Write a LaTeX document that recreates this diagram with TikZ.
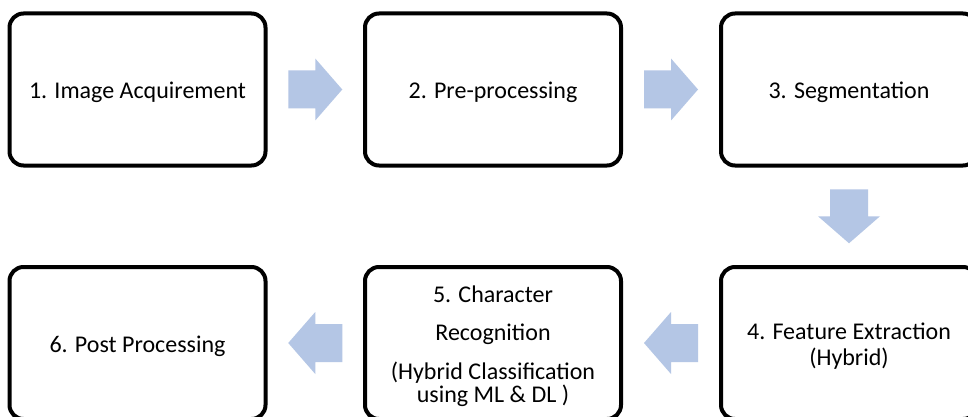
\documentclass[tikz,border=0pt]{standalone}
\usepackage{fontspec}
\setmainfont{Carlito}
\usetikzlibrary{calc}
\definecolor{arrowblue}{RGB}{180,198,229}
\begin{document}
\begin{tikzpicture}[x=1pt,y=-1pt,
  stepbox/.style={draw=black, line width=4pt, rounded corners=14pt,
    minimum width=256pt, minimum height=152pt, inner sep=0pt},
  steptext/.style={inner sep=0pt, align=center, text=black, yshift=-3pt,
    font=\fontsize{24}{28}\selectfont},
  barrow/.pic={\fill[arrowblue] (-27,-19) -- (0,-19) -- (0,-31) -- (27,0)
     -- (0,31) -- (0,19) -- (-27,19) -- cycle;}
]
\fill[white] (0,0) rectangle (968,417);
\useasboundingbox (0,0) rectangle (968,417);
\node[stepbox] (b1) at (137.5,89.5) {};
\node[stepbox] (b2) at (493,89.5) {};
\node[stepbox] (b3) at (849,89.5) {};
\node[stepbox] (b4) at (849,343) {};
\node[stepbox] (b5) at (493,343) {};
\node[stepbox] (b6) at (137.5,343) {};
\node[steptext] (t1) at (b1.center) {1. Image Acquirement};
\node[steptext] (t2) at (b2.center) {2. Pre-processing};
\node[steptext] (t3) at (b3.center) {3. Segmentation};
\node[steptext, font=\fontsize{24}{26}\selectfont] (t4) at (b4.center) {4. Feature Extraction\\(Hybrid)};
\node[steptext, font=\fontsize{24}{23}\selectfont] (t5) at (b5.center) {5. Character\\[15pt]Recognition\\[16pt](Hybrid Classification\\using ML \& DL )};
\node[steptext] (t6) at (b6.center) {6. Post Processing};
\path ($(b1.east)!0.5!(b2.west)$) pic {barrow};
\path ($(b2.east)!0.5!(b3.west)$) pic {barrow};
\path ($(b3.south)!0.5!(b4.north)$) pic[rotate=-90] {barrow};
\path ($(b5.east)!0.5!(b4.west)$) pic[rotate=180] {barrow};
\path ($(b6.east)!0.5!(b5.west)$) pic[rotate=180] {barrow};
\end{tikzpicture}
\end{document}
